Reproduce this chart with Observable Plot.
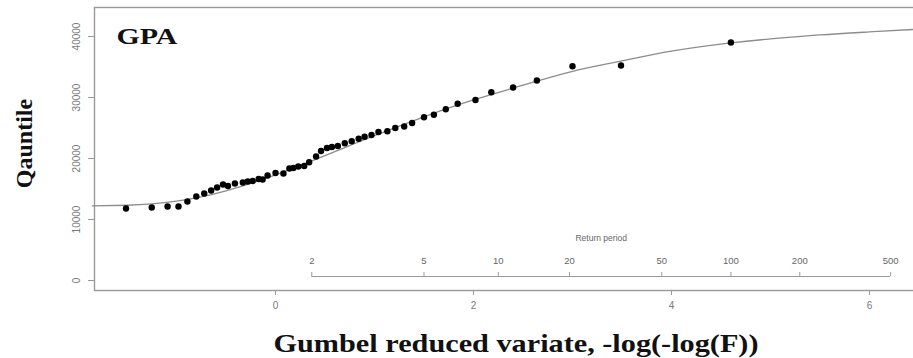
<!DOCTYPE html>
<html><head><meta charset="utf-8">
<script src="https://cdn.jsdelivr.net/npm/d3@7"></script>
<script src="https://cdn.jsdelivr.net/npm/@observablehq/plot@0.6"></script>
<style>html,body{margin:0;padding:0;overflow:hidden;background:#fff;width:913px;height:358px}#chart{width:1000px}svg{max-width:none!important}</style>
</head><body><div id="chart"></div>
<script>
// Observed annual values (plotted against Gumbel reduced variate)
const gumbelX = [-1.51,-1.25,-1.09,-0.98,-0.89,-0.80,-0.72,-0.65,-0.59,-0.53,-0.48,-0.41,-0.33,-0.28,-0.23,-0.17,-0.13,-0.08,0.00,0.08,0.14,0.18,0.23,0.29,0.34,0.41,0.46,0.52,0.57,0.63,0.70,0.77,0.84,0.90,0.97,1.04,1.13,1.21,1.30,1.38,1.50,1.60,1.72,1.84,2.02,2.18,2.40,2.64,3.00,3.49,4.60];
const quantile = [11800,11970,12130,12130,12950,13770,14260,14750,15250,15740,15490,15900,16070,16230,16310,16640,16560,17210,17620,17540,18360,18440,18690,18770,19390,20330,21230,21720,21890,22050,22510,22840,23230,23560,23850,24340,24460,25000,25250,25820,26770,27160,28080,28970,29590,30870,31640,32790,35130,35250,39020];
// Fitted GPA quantile curve
const curveX = [-1.85,-1.5,-1.25,-1,-0.75,-0.5,-0.25,0,0.25,0.5,0.75,1,1.5,2,2.5,3,3.5,4,4.6,5,5.5,6,6.5,7.4];
const curveY = [12220,12340,12570,13020,13720,14700,15910,17320,18860,20480,22120,23750,26840,29610,32010,34300,36000,37600,38950,39600,40250,40750,41200,41900];
const yTicks = [0,10000,20000,30000,40000];
const xTicks = [0,2,4,6];
const returnPeriods = [2,5,10,20,50,100,200,500];

const points = gumbelX.map((x,i)=>({x, y: quantile[i]}));
const curve = curveX.map((x,i)=>({x, y: curveY[i]}));
const gumbel = T => -Math.log(-Math.log(1 - 1/T));
const rp = returnPeriods.map(T => ({T, x: gumbel(T)}));
const rpY = 656; // level of the return-period axis (data units)
const rpTick = 650; // tick length up from that axis (data units)
const serif = "'Liberation Serif','Times New Roman',serif";
const sans = "'Liberation Sans',Arial,sans-serif";

const plot = Plot.plot({
  width: 1000, height: 358,
  marginLeft: 94, marginRight: 0, marginTop: 7, marginBottom: 68,
  style: {fontFamily: sans, background: "#fff", overflow: "visible", maxWidth: "none"},
  x: {domain: [-1.8283, 7.3232]},
  y: {domain: [-1639, 44754]},
  marks: [
    Plot.axisY(yTicks, {tickSize: 6, tickRotate: -90, tickPadding: 9, fontSize: 10, stroke: "#999", fill: "#777", label: null, tickFormat: d => String(d)}),
    Plot.axisX(xTicks, {tickSize: 5, tickPadding: 6, fontSize: 10, stroke: "#999", fill: "#777", label: null, tickFormat: d => String(d)}),
    Plot.frame({stroke: "#999", strokeWidth: 1.4}),
    // return period axis
    Plot.ruleY([rpY], {x1: gumbel(returnPeriods[0]), x2: gumbel(returnPeriods[returnPeriods.length-1]), stroke: "#999", strokeWidth: 1.2}),
    Plot.ruleX(rp, {x: "x", y1: rpY, y2: rpY + rpTick, stroke: "#999", strokeWidth: 1}),
    Plot.text(rp, {x: "x", y: rpY, dy: -16, text: d => String(d.T), fontSize: 9.5, fill: "#666"}),
    Plot.text(["Return period"], {x: (gumbel(returnPeriods[0]) + gumbel(returnPeriods[returnPeriods.length-1]))/2, y: rpY, dy: -38, text: d => d, fontSize: 8.5, fill: "#666"}),
    // fitted curve and observations
    Plot.line(curve, {x: "x", y: "y", stroke: "#8c8c8c", strokeWidth: 1.3, curve: "natural"}),
    Plot.dot(points, {x: "x", y: "y", r: 3.2, fill: "#000"}),
    // texts
    Plot.text(["GPA"], {frameAnchor: "top-left", dx: 22, dy: 29, text: d => d, textAnchor: "start", lineAnchor: "middle", fontSize: 24, fontWeight: "bold", fontFamily: serif, fill: "#111", className: "gpa"}),
    Plot.text(["Gumbel reduced variate, -log(-log(F))"], {frameAnchor: "bottom-left", dx: 421.5, dy: 53, text: d => d, textAnchor: "middle", lineAnchor: "middle", fontSize: 25, fontWeight: "bold", fontFamily: serif, fill: "#111", className: "xtitle"}),
    Plot.text(["Qauntile"], {frameAnchor: "left", dx: -70, dy: -5.5, rotate: -90, text: d => d, textAnchor: "middle", lineAnchor: "middle", fontSize: 24, fontWeight: "bold", fontFamily: serif, fill: "#111", className: "ytitle"})
  ]
});
plot.style.maxWidth = "none";
d3.select(plot).select(".gpa text").attr("textLength", 61).attr("lengthAdjust", "spacingAndGlyphs");
d3.select(plot).select(".xtitle text").attr("textLength", 485).attr("lengthAdjust", "spacingAndGlyphs");
document.getElementById("chart").appendChild(plot);
</script>
</body></html>
